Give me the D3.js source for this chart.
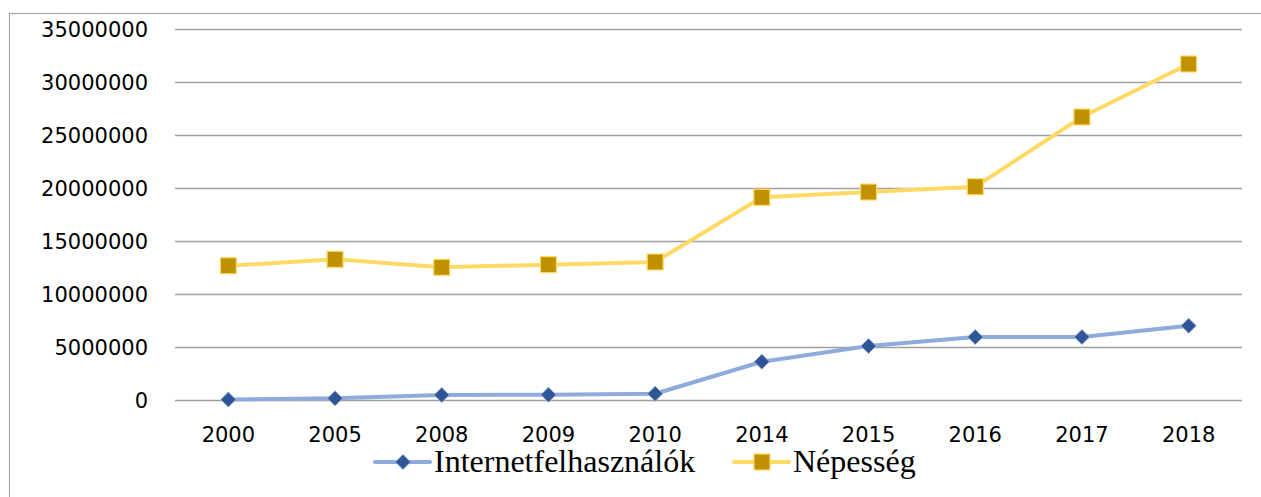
<!DOCTYPE html>
<html>
<head>
<meta charset="utf-8">
<script src="https://cdn.jsdelivr.net/npm/d3@7"></script>
<style>
  body { margin: 0; background: #fff; }
  .tick text { font-family: 'DejaVu Sans', sans-serif; }
</style>
</head>
<body>
<div id="plot-container"></div>
<script>
// data
var years = ['2000', '2005', '2008', '2009', '2010', '2014', '2015', '2016', '2017', '2018'];
var internetUsers = [40000, 160000, 470000, 500000, 590000, 3610000, 5090000, 5940000, 5940000, 7010000];
var population = [12670000, 13270000, 12520000, 12770000, 13020000, 19120000, 19620000, 20120000, 26700000, 31700000];
var yTicks = [0, 5000000, 10000000, 15000000, 20000000, 25000000, 30000000, 35000000];
var seriesNames = ['Internetfelhasználók', 'Népesség'];

var totalWidth = 1261, totalHeight = 497;
var margins = {top: 29, left: 175, right: 19, bottom: 97};
var width = totalWidth - margins.left - margins.right;
var height = totalHeight - margins.top - margins.bottom;

var svg = d3.select('#plot-container').append('svg').attr('width', totalWidth).attr('height', totalHeight);

// outer frame (right and bottom edges fall outside the picture)
svg.append('rect').attr('x', 9.5).attr('y', 13.5).attr('width', 1300).attr('height', 600)
  .attr('fill', 'none').attr('stroke', '#a6a6a6').attr('stroke-width', 1.2);

var xScale = d3.scaleBand().domain(years).range([0, width]);
var yScale = d3.scaleLinear().domain([0, 35000000]).range([height, 0]);

var plot = svg.append('g').attr('transform', 'translate(' + [margins.left, margins.top] + ')');

// grid lines
plot.selectAll('line.grid').data(yTicks).enter().append('line').attr('class', 'grid')
  .attr('x1', 0).attr('x2', width)
  .attr('y1', function(d) { return Math.round(yScale(d)) + 0.5; })
  .attr('y2', function(d) { return Math.round(yScale(d)) + 0.5; })
  .attr('stroke', '#a0a0a0').attr('stroke-width', 1.5);

// y axis labels
var yAxis = plot.append('g').call(d3.axisLeft(yScale).tickValues(yTicks).tickFormat(d3.format('d')).tickSize(0).tickPadding(27));
yAxis.select('.domain').remove();
yAxis.selectAll('text').attr('font-size', 21).attr('fill', '#000').attr('dy', '0.36em');

// x axis labels
var xAxis = plot.append('g').attr('transform', 'translate(0,' + height + ')')
  .call(d3.axisBottom(xScale).tickSize(0).tickPadding(27));
xAxis.select('.domain').remove();
xAxis.selectAll('text').attr('font-size', 21).attr('fill', '#000');

var cx = function(i) { return xScale(years[i]) + xScale.bandwidth() / 2; };
var line = d3.line().x(function(d, i) { return cx(i); }).y(function(d) { return yScale(d); });

// population
plot.append('path').datum(population).attr('d', line).attr('fill', 'none')
  .attr('stroke', '#ffd966').attr('stroke-width', 4).attr('stroke-linejoin', 'round');
plot.selectAll('rect.pop').data(population).enter().append('rect').attr('class', 'pop')
  .attr('x', function(d, i) { return cx(i) - 8; }).attr('y', function(d) { return yScale(d) - 8; })
  .attr('width', 16).attr('height', 16)
  .attr('fill', '#bf9000').attr('stroke', '#ffd966').attr('stroke-width', 1.2);

// internet users
plot.append('path').datum(internetUsers).attr('d', line).attr('fill', 'none')
  .attr('stroke', '#8faadc').attr('stroke-width', 4).attr('stroke-linejoin', 'round');
var diamond = d3.symbol().type(d3.symbolDiamond2).size(145);
plot.selectAll('path.net').data(internetUsers).enter().append('path').attr('class', 'net')
  .attr('d', diamond)
  .attr('transform', function(d, i) { return 'translate(' + [cx(i), yScale(d)] + ')'; })
  .attr('fill', '#2f5597').attr('stroke', '#8faadc').attr('stroke-width', 0.8);

// legend
var legend = svg.append('g').attr('transform', 'translate(0,462)');
var items = [
  {name: seriesNames[0], x: 375, line: '#8faadc', marker: 'diamond'},
  {name: seriesNames[1], x: 734, line: '#ffd966', marker: 'square'}
];
items.forEach(function(it) {
  var g = legend.append('g').attr('transform', 'translate(' + it.x + ',0)');
  g.append('line').attr('x1', 0).attr('x2', 55).attr('stroke', it.line).attr('stroke-width', 4).attr('stroke-linecap', 'round');
  if (it.marker === 'diamond') {
    g.append('path').attr('d', diamond).attr('transform', 'translate(28,0)')
      .attr('fill', '#2f5597').attr('stroke', '#8faadc').attr('stroke-width', 0.8);
  } else {
    g.append('rect').attr('x', 20).attr('y', -8).attr('width', 16).attr('height', 16)
      .attr('fill', '#bf9000').attr('stroke', '#ffd966').attr('stroke-width', 1.2);
  }
  g.append('text').attr('x', 59).attr('y', 10).text(it.name)
    .attr('font-family', "'Liberation Serif', 'Times New Roman', serif").attr('font-size', 32).attr('fill', '#000');
});
</script>
</body>
</html>
